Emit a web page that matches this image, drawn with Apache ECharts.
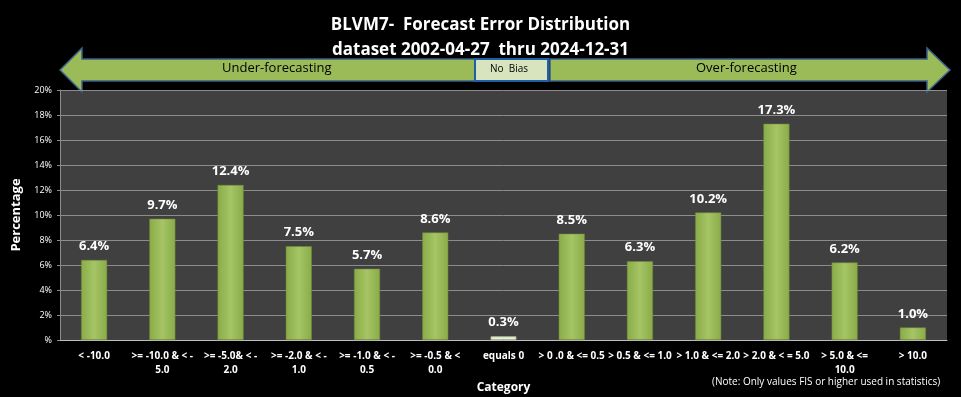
<!DOCTYPE html>
<html>
<head>
<meta charset="utf-8">
<script src="https://cdn.jsdelivr.net/npm/echarts@6/dist/echarts.min.js"></script>
<style>
html,body{margin:0;padding:0;background:#000;}
#main{width:961px;height:397px;}
</style>
</head>
<body>
<div id="main"></div>
<script>
var myChart = echarts.init(document.getElementById("main"));

var categories = ['< -10.0', '>= -10.0 & < -\n5.0', '>= -5.0& < -\n2.0', '>= -2.0 & < -\n1.0',
  '>= -1.0 & < -\n0.5', '>= -0.5 & <\n0.0', 'equals 0', '> 0 .0 & <= 0.5', '> 0.5 & <= 1.0',
  '> 1.0 & <= 2.0', '> 2.0 & < = 5.0', '> 5.0 & <=\n10.0', '> 10.0'];
var percents = [6.4, 9.7, 12.4, 7.5, 5.7, 8.6, 0.3, 8.5, 6.3, 10.2, 17.3, 6.2, 1.0];
var zeroIndex = 6;

var font = '"Open Sans", "Liberation Sans", sans-serif';

var greenBar = {
    type: 'linear', x: 0, y: 0, x2: 1, y2: 0,
    colorStops: [{offset: 0, color: '#8aab48'}, {offset: 0.5, color: '#a5c566'}, {offset: 1, color: '#8aab48'}]
};

var barData = [];
for (var i = 0; i < percents.length; i++) {
    if (i == zeroIndex) {
        barData.push({value: percents[i], itemStyle: {color: '#ebf1de', borderColor: '#a8b890', borderWidth: 1}});
    } else {
        barData.push({value: percents[i]});
    }
}

var arrowStroke = '#3a5f8c';
var arrowFill = '#9bbb59';

option = {
    backgroundColor: '#000',
    animation: false,
    title: {
        text: 'BLVM7-  Forecast Error Distribution\ndataset 2002-04-27  thru 2024-12-31',
        left: 'center',
        top: 8,
        textStyle: {color: '#fff', fontSize: 17, fontWeight: 'bold', fontFamily: font, lineHeight: 25}
    },
    grid: {left: 60, right: 14, top: 90, bottom: 57, outerBoundsMode: 'none',
           backgroundColor: '#404040', show: true, borderWidth: 0},
    xAxis: {
        type: 'category',
        data: categories,
        name: 'Category',
        nameLocation: 'middle',
        nameGap: 38,
        nameTextStyle: {color: '#fff', fontSize: 12, fontWeight: 'bold', fontFamily: font},
        axisLine: {lineStyle: {color: '#bfbfbf'}},
        axisTick: {length: 4, lineStyle: {color: '#bfbfbf'}},
        axisLabel: {color: '#fff', fontSize: 10, fontWeight: 'bold', fontFamily: font, interval: 0, lineHeight: 14, margin: 9}
    },
    yAxis: {
        type: 'value',
        min: 0, max: 20, interval: 2,
        name: 'Percentage',
        nameLocation: 'middle',
        nameGap: 37,
        nameTextStyle: {color: '#fff', fontSize: 13, fontWeight: 'bold', fontFamily: font},
        axisLine: {show: true, lineStyle: {color: '#8c8c8c'}},
        axisTick: {show: true, length: 3, lineStyle: {color: '#8c8c8c'}},
        splitLine: {lineStyle: {color: '#8c8c8c', width: 1}},
        axisLabel: {
            color: '#fff', fontSize: 9, fontFamily: font, margin: 8,
            formatter: function (v) { return v === 0 ? '%' : v + '%'; }
        }
    },
    series: [{
        type: 'bar',
        data: barData,
        barWidth: 26,
        itemStyle: {color: greenBar, borderColor: '#6e8a35', borderWidth: 0.5},
        label: {
            show: true, position: 'top', distance: 7,
            color: '#fff', fontSize: 13, fontWeight: 'bold', fontFamily: font,
            formatter: function (p) { return p.value.toFixed(1) + '%'; }
        }
    }],
    graphic: [
        {type: 'polygon', shape: {points: [[60, 70], [82, 48], [82, 59], [475, 59], [475, 81], [82, 81], [82, 92]]},
         style: {fill: arrowFill, stroke: arrowStroke, lineWidth: 1.5}},
        {type: 'text', left: 222, top: 62, style: {text: 'Under-forecasting', fill: '#000', fontSize: 13, fontFamily: font}},
        {type: 'rect', shape: {x: 475, y: 59, width: 73, height: 22},
         style: {fill: '#d7e4bd', stroke: '#1f5fa8', lineWidth: 2}},
        {type: 'text', left: 490, top: 64, style: {text: 'No  Bias', fill: '#000', fontSize: 10, fontFamily: font}},
        {type: 'polygon', shape: {points: [[550, 59], [927, 59], [927, 48], [950, 70], [927, 92], [927, 81], [550, 81]]},
         style: {fill: arrowFill, stroke: arrowStroke, lineWidth: 1.5}},
        {type: 'text', left: 696, top: 62, style: {text: 'Over-forecasting', fill: '#000', fontSize: 13, fontFamily: font}},
        {type: 'text', left: 712, top: 377, style: {text: '(Note: Only values FIS or higher used in statistics)', fill: '#fff', fontSize: 10, fontFamily: font}}
    ]
};

myChart.setOption(option);
</script>
</body>
</html>
